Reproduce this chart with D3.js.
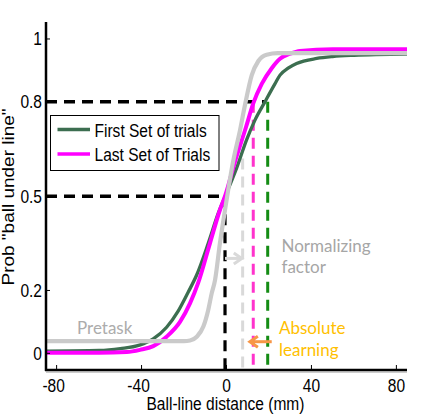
<!DOCTYPE html>
<html>
<head>
<meta charset="utf-8">
<script src="https://cdn.jsdelivr.net/npm/d3@7"></script>
<style>
  html, body { margin: 0; padding: 0; background: #fff; }
  svg { display: block; }
</style>
</head>
<body>
<svg id="chart" width="433" height="416"></svg>
<script>
// ---------- data ----------
const seriesNames = ["First Set of trials", "Last Set of Trials", "Pretask"];

// [ball-line distance (mm), probability]
const firstSet = [
  [-85, 0.007], [-60, 0.009], [-50, 0.015], [-41, 0.026], [-34.5, 0.046],
  [-28.2, 0.083], [-22.7, 0.135], [-18, 0.195], [-14, 0.25], [-8.6, 0.35],
  [-3.9, 0.445], [-0.7, 0.498], [4.8, 0.59], [9.5, 0.68], [13.4, 0.742],
  [18.1, 0.80], [22.8, 0.857], [25.2, 0.885], [29, 0.907], [33, 0.922],
  [42.5, 0.938], [50, 0.944], [60, 0.948], [85, 0.952]
];
const lastSet = [
  [-85, 0.002], [-60, 0.002], [-47, 0.004], [-40.7, 0.011], [-34.5, 0.023],
  [-28.2, 0.053], [-21.9, 0.10], [-17.2, 0.159], [-13.3, 0.225], [-7.8, 0.35],
  [-3.1, 0.456], [-0.7, 0.50], [4.0, 0.61], [9.2, 0.72], [12.6, 0.795],
  [16.6, 0.857], [21.3, 0.907], [25.2, 0.937], [30, 0.953], [34.6, 0.962],
  [50, 0.967], [85, 0.967]
];
const pretask = [
  [-85, 0.039], [-20, 0.039], [-17.2, 0.041], [-14, 0.053], [-10.9, 0.085],
  [-8.6, 0.138], [-7.0, 0.19], [-5.4, 0.233], [-3.1, 0.35], [-0.7, 0.456],
  [0.8, 0.52], [3.1, 0.61], [6.4, 0.711], [8.7, 0.79], [11.9, 0.885],
  [15.0, 0.93], [18.9, 0.95], [24.2, 0.955], [85, 0.955]
];

// threshold guide lines: [x1, y1, x2, y2]
const guideBlack80 = [-85, 0.8, 18.1, 0.8];
const guideBlack50 = [-85, 0.5, -0.7, 0.5];
const guideBlackV  = [-0.7, 0.5, -0.7, -0.053];
const guideGrayV   = [7.6, 0.62, 7.6, -0.053];
const guideMagV    = [12.6, 0.8, 12.6, -0.053];
const guideGreenV  = [19.4, 0.8, 19.4, -0.053];

// arrows: [xFrom, xTo, y]
const arrowNormalizing = [-0.7, 7.2, 0.302];
const arrowAbsolute = [21.3, 11.0, 0.037];

const xTicks = [-80, -40, 0, 40, 80];
const yTicks = [0, 0.2, 0.5, 0.8, 1];
const yTickLabels = ["0", "0.2", "0.5", "0.8", "1"];

const xLabel = "Ball-line distance (mm)";
const yLabel = 'Prob "ball under line"';

// ---------- drawing ----------
const svg = d3.select("#chart");
const x = d3.scaleLinear().domain([-85, 85]).range([46, 407]);
const y = d3.scaleLinear().domain([-0.053, 1.054]).range([370, 22]);

const MFONT = "'Liberation Sans', Arial, sans-serif";
const AFONT = "Lato, 'Open Sans', sans-serif";
const SX = 0.84;

function mtext(sel, px, py, s, anchor, size, rotate) {
  return sel.append("text")
    .attr("transform", `translate(${px},${py}) scale(${SX},1)` + (rotate ? " rotate(-90)" : ""))
    .attr("text-anchor", anchor)
    .attr("font-family", MFONT)
    .attr("font-size", size)
    .attr("fill", "#000")
    .text(s);
}

function guide(g, d, color, w) {
  g.append("line")
    .attr("x1", x(d[0])).attr("y1", y(d[1]))
    .attr("x2", x(d[2])).attr("y2", y(d[3]))
    .attr("stroke", color).attr("stroke-width", w)
    .attr("stroke-dasharray", "11,7");
}

const gGuides = svg.append("g");
guide(gGuides, guideGrayV, "#d9d9d9", 3);
guide(gGuides, guideMagV, "#ff33cc", 3);
guide(gGuides, guideGreenV, "#148c14", 3);
guide(gGuides, guideBlackV, "#000", 3.2);
guide(gGuides, guideBlack80, "#000", 3.5);
guide(gGuides, guideBlack50, "#000", 3.5);

// curves
const line = d3.line().x(d => x(d[0])).y(d => y(d[1])).curve(d3.curveMonotoneX);
const curves = [
  { data: firstSet, color: "#3c6e50", w: 3.3 },
  { data: lastSet, color: "#ff00ff", w: 4 },
  { data: pretask, color: "#cacaca", w: 4.2 }
];
svg.append("g").selectAll("path").data(curves).join("path")
  .attr("d", d => line(d.data))
  .attr("fill", "none")
  .attr("stroke", d => d.color)
  .attr("stroke-width", d => d.w)
  .attr("stroke-linejoin", "round")
  .attr("stroke-linecap", "butt");

// axes
const gAxes = svg.append("g");
gAxes.append("line")
  .attr("x1", x.range()[0]).attr("x2", x.range()[0])
  .attr("y1", y.range()[1]).attr("y2", y.range()[0] + 1)
  .attr("stroke", "#000").attr("stroke-width", 2.5);
gAxes.append("line")
  .attr("x1", x.range()[0] - 1).attr("x2", x.range()[1])
  .attr("y1", y.range()[0]).attr("y2", y.range()[0])
  .attr("stroke", "#000").attr("stroke-width", 2.5);
gAxes.append("line")
  .attr("x1", x.range()[0]).attr("x2", x.range()[1])
  .attr("y1", y.range()[0] + 2).attr("y2", y.range()[0] + 2)
  .attr("stroke", "#9a9a9a").attr("stroke-width", 1);

// ticks
xTicks.forEach(t => {
  gAxes.append("line")
    .attr("x1", x(t)).attr("x2", x(t))
    .attr("y1", y.range()[0]).attr("y2", y.range()[0] - 5)
    .attr("stroke", "#000").attr("stroke-width", 1);
  mtext(svg, x(t) - (t < 0 ? 3 : 0), 391.5, String(t), "middle", 18.5);
});
yTicks.forEach((t, i) => {
  gAxes.append("line")
    .attr("x1", x.range()[0]).attr("x2", x.range()[0] + 4)
    .attr("y1", y(t)).attr("y2", y(t))
    .attr("stroke", "#000").attr("stroke-width", 1);
  mtext(svg, 42, y(t) + 6.5, yTickLabels[i], "end", 18.5);
});

// axis labels
mtext(svg, (x.range()[0] + x.range()[1]) / 2 - 1, 410, xLabel, "middle", 18.5);
mtext(svg, 14, 197, yLabel, "middle", 19, true);

// legend
const leg = svg.append("g");
leg.append("rect")
  .attr("x", 50.5).attr("y", 115.5).attr("width", 168.5).attr("height", 55)
  .attr("fill", "#fff").attr("stroke", "#000").attr("stroke-width", 1);
const legItems = [
  { name: seriesNames[0], color: "#3c6e50", w: 3.3, ly: 129.5 },
  { name: seriesNames[1], color: "#ff00ff", w: 3.5, ly: 154 }
];
legItems.forEach(it => {
  leg.append("line")
    .attr("x1", 57.5).attr("x2", 90).attr("y1", it.ly).attr("y2", it.ly)
    .attr("stroke", it.color).attr("stroke-width", it.w);
  mtext(leg, 94.5, it.ly + 7, it.name, "start", 18.5);
});

// arrows
function arrow(d, color) {
  const x1 = x(d[0]), x2 = x(d[1]), yy = y(d[2]);
  const dir = x2 > x1 ? 1 : -1;
  svg.append("line")
    .attr("x1", x1).attr("x2", x2 - dir * 1).attr("y1", yy).attr("y2", yy)
    .attr("stroke", color).attr("stroke-width", 3);
  svg.append("path")
    .attr("d", `M${x2 - dir * 8},${yy - 5.5} L${x2},${yy} L${x2 - dir * 8},${yy + 5.5}`)
    .attr("fill", "none").attr("stroke", color).attr("stroke-width", 3)
    .attr("stroke-linejoin", "miter");
}
arrow(arrowNormalizing, "#d9d9d9");
arrow(arrowAbsolute, "#f79646");

// annotations
function atext(px, py, s, color) {
  svg.append("text")
    .attr("x", px).attr("y", py)
    .attr("font-family", AFONT).attr("font-size", 17)
    .attr("fill", color).text(s);
}
atext(281.5, 251.5, "Normalizing", "#a6a6a6");
atext(281.5, 273, "factor", "#a6a6a6");
atext(77, 333.5, "Pretask", "#acacac");
atext(279, 333.5, "Absolute", "#ffc000");
atext(279, 356, "learning", "#ffc000");
</script>
</body>
</html>
